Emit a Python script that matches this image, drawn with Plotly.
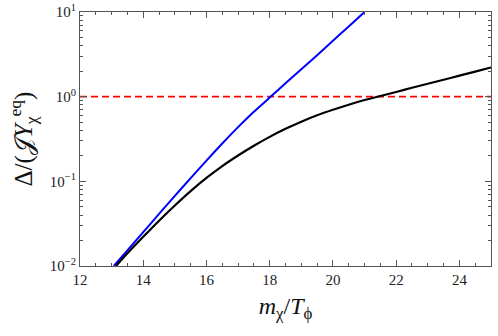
import plotly.graph_objects as go

# Black curve
x_black = [13.14, 13.5, 14.0, 14.5, 15.0, 15.5, 16.0, 16.5, 17.0, 17.5, 18.0, 18.5,
           19.0, 19.5, 20.0, 20.5, 21.0, 21.5, 22.0, 22.5, 23.0, 23.5, 24.0, 24.5, 25.0]
y_black = [0.0100, 0.0141, 0.0221, 0.0343, 0.0519, 0.0767, 0.1096, 0.1514, 0.2018, 0.2630,
           0.3350, 0.4169, 0.5070, 0.6026, 0.6998, 0.8035, 0.9120, 1.019, 1.135, 1.274,
           1.422, 1.585, 1.770, 1.977, 2.213]

# Blue curve
x_blue = [13.07, 14.0, 14.5, 15.0, 15.5, 16.0, 16.5, 17.0, 17.5, 18.0, 18.5, 19.0,
          19.5, 20.0, 20.5, 21.0]
y_blue = [0.0100, 0.0251, 0.0412, 0.0673, 0.1091, 0.1758, 0.2799, 0.4365, 0.6637, 0.9772,
          1.439, 2.113, 3.090, 4.571, 6.761, 10.0]

# Reference line
x_ref = [12, 25]
y_ref = [1.0, 1.0]

x_ticks = [12, 14, 16, 18, 20, 22, 24]
y_ticks = [0.01, 0.1, 1, 10]
y_ticktext = ["10<sup>−2</sup>", "10<sup>−1</sup>", "10<sup>0</sup>", "10<sup>1</sup>"]
x_minor = [v / 2 for v in range(24, 51)]
y_minor = [m * 10 ** e for e in (-2, -1, 0) for m in range(2, 10)]

FONT = "Liberation Serif"
AX = "#555555"

fig = go.Figure()
fig.add_trace(go.Scatter(x=x_ref, y=y_ref, mode="lines",
                         line=dict(color="#ff0000", width=1.6, dash="7px,4px")))
fig.add_trace(go.Scatter(x=x_blue, y=y_blue, mode="lines", line_shape="spline",
                         line=dict(color="#0000ff", width=2, smoothing=0.6)))
fig.add_trace(go.Scatter(x=x_black, y=y_black, mode="lines", line_shape="spline",
                         line=dict(color="#000000", width=2.2, smoothing=0.8)))

fig.update_layout(
    width=498, height=336,
    margin=dict(l=80, r=7, t=12, b=70, autoexpand=False),
    paper_bgcolor="white", plot_bgcolor="white",
    showlegend=False,
    font=dict(family=FONT, size=14, color="#222222"),
)
fig.update_xaxes(
    range=[12, 25], tickvals=x_ticks, ticks="inside", ticklen=6, tickwidth=1,
    tickcolor=AX, showline=True, linecolor=AX, linewidth=1, mirror="ticks",
    showgrid=False, zeroline=False, automargin=False,
    minor=dict(tickvals=x_minor, ticks="inside", ticklen=3, tickcolor=AX, showgrid=False),
    title=dict(text="<i>m</i><sub>χ</sub>/<i>T</i><sub>ϕ</sub>",
               font=dict(family=FONT, size=24, color="#111111"), standoff=10),
    tickfont=dict(family=FONT, size=15, color="#222222"),
)
fig.update_yaxes(
    type="log", range=[-2, 1], tickvals=y_ticks, ticktext=y_ticktext,
    ticks="inside", ticklen=6, tickwidth=1, tickcolor=AX,
    showline=True, linecolor=AX, linewidth=1, mirror="ticks",
    showgrid=False, zeroline=False, automargin=False,
    minor=dict(tickvals=y_minor, ticks="inside", ticklen=3, tickcolor=AX, showgrid=False),
    title=dict(text="Δ/(𝒥<i>Y</i><sub>χ</sub><sup>eq</sup>)",
               font=dict(family=FONT, size=25, color="#111111"), standoff=10),
    tickfont=dict(family=FONT, size=15, color="#222222"),
)

# pin the figure to the page's top-left corner (no default body margin)
pin = ("document.body.style.margin='0';"
       "var d=document.getElementById('{plot_id}');"
       "d.style.position='fixed';d.style.left='0px';d.style.top='0px';")
fig.write_html("out.html", config={"displayModeBar": False}, post_script=pin)
